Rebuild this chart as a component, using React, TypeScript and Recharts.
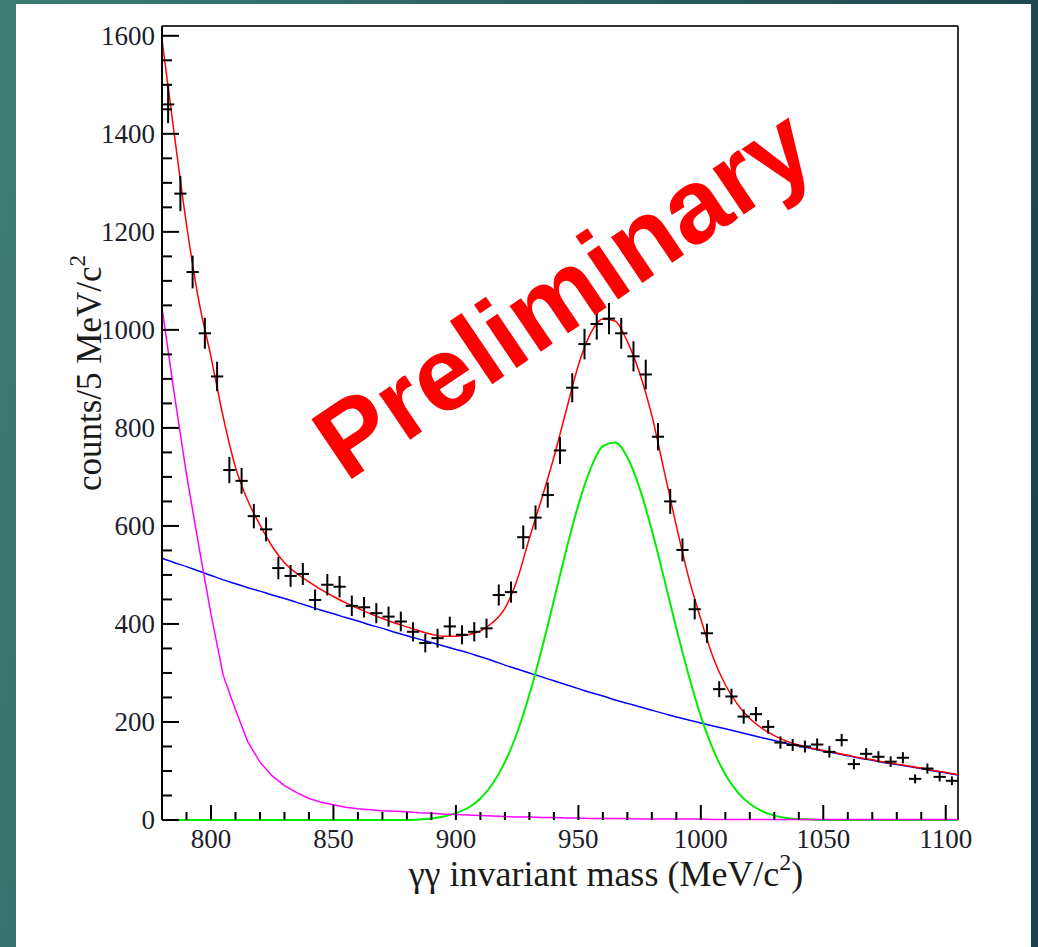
import React from "react";
import { ComposedChart, Line, Scatter, ErrorBar, XAxis, YAxis, ReferenceLine } from "recharts";

// measured histogram: bin centres (5 MeV bins) and counts
const binCenters = [
  782.5, 787.5, 792.5, 797.5, 802.5, 807.5, 812.5, 817.5, 822.5, 827.5, 832.5, 837.5, 842.5,
  847.5, 852.5, 857.5, 862.5, 867.5, 872.5, 877.5, 882.5, 887.5, 892.5, 897.5, 902.5, 907.5,
  912.5, 917.5, 922.5, 927.5, 932.5, 937.5, 942.5, 947.5, 952.5, 957.5, 962.5, 967.5, 972.5,
  977.5, 982.5, 987.5, 992.5, 997.5, 1002.5, 1007.5, 1012.5, 1017.5, 1022.5, 1027.5, 1032.5,
  1037.5, 1042.5, 1047.5, 1052.5, 1057.5, 1062.5, 1067.5, 1072.5, 1077.5, 1082.5, 1087.5,
  1092.5, 1097.5, 1102.5,
];
const counts = [
  1460, 1278, 1118, 993, 905, 714, 692, 620, 593, 514, 498, 502, 449, 480, 476, 437, 434, 422,
  415, 405, 384, 361, 371, 395, 378, 384, 391, 459, 465, 577, 617, 663, 754, 882, 971, 1012,
  1023, 993, 946, 909, 782, 650, 551, 430, 381, 267, 252, 211, 216, 190, 158, 153, 150, 154,
  139, 163, 114, 135, 129, 119, 127, 84, 105, 88, 80,
];
const binHalfWidth = 2.5;

// fit curves, read at 5 MeV steps
const curveX = [
  780, 785, 790, 795, 800, 805, 810, 815, 820, 825, 830, 835, 840, 845, 850, 855, 860, 865, 870,
  875, 880, 885, 890, 895, 900, 905, 910, 915, 920, 925, 930, 935, 940, 945, 950, 955, 960, 965,
  970, 975, 980, 985, 990, 995, 1000, 1005, 1010, 1015, 1020, 1025, 1030, 1035, 1040, 1045,
  1050, 1055, 1060, 1065, 1070, 1075, 1080, 1085, 1090, 1095, 1100, 1105,
];
const totalFit = [
  1592, 1400, 1215, 1060, 945, 822, 720, 652, 602, 558, 525, 503, 486, 470, 456, 443, 432, 421,
  411, 402, 394, 386, 379, 375, 375, 378, 386, 403, 432, 490, 575, 655, 740, 835, 928, 993,
  1022, 1018, 976, 912, 825, 713, 600, 495, 410, 332, 276, 236, 207, 187, 172, 161, 153, 147,
  142, 137, 132, 127, 123, 118, 114, 110, 106, 101, 97, 93,
];
const linearBkg = [
  534, 525, 517, 508, 499, 490, 482, 474, 467, 459, 452, 444, 436, 428, 421, 413, 406, 398, 391,
  383, 376, 369, 362, 355, 348, 341, 333, 325, 316, 308, 300, 292, 284, 276, 268, 260, 253, 245,
  238, 231, 224, 217, 210, 204, 198, 192, 186, 180, 174, 168, 162, 156, 151, 146, 141, 136, 131,
  126, 122, 117, 113, 109, 105, 100, 96, 92,
];
const lowMassBkg = [
  1045, 870, 705, 560, 420, 295, 225, 160, 118, 90, 70, 56, 44, 36, 31, 26, 23, 21, 19, 18, 17,
  15, 14, 12, 11, 10, 9, 8, 7, 6, 6, 5, 5, 4, 4, 3, 3, 3, 3, 2, 2, 2, 2, 2, 2, 1, 1, 1, 1, 1, 1,
  1, 1, 1, 1, 1, 1, 1, 1, 1, 1, 1, 1, 1, 1, 1,
];
const peakFit = [
  0, 0, 0, 0, 0, 0, 0, 0, 0, 0, 0, 0, 0, 0, 0, 0, 0, 0, 0, 0, 0, 1, 3, 7, 14, 25, 44, 74, 118,
  178, 256, 348, 448, 550, 643, 717, 763, 770, 740, 677, 591, 493, 391, 296, 212, 144, 93, 57,
  33, 18, 9, 4, 2, 1, 0, 0, 0, 0, 0, 0, 0, 0, 0, 0, 0, 0,
];

const xTicks = [
  790, 800, 810, 820, 830, 840, 850, 860, 870, 880, 890, 900, 910, 920, 930, 940, 950, 960, 970,
  980, 990, 1000, 1010, 1020, 1030, 1040, 1050, 1060, 1070, 1080, 1090, 1100,
];
const xLabels = [800, 850, 900, 950, 1000, 1050, 1100];
const yTicks = [
  0, 50, 100, 150, 200, 250, 300, 350, 400, 450, 500, 550, 600, 650, 700, 750, 800, 850, 900,
  950, 1000, 1050, 1100, 1150, 1200, 1250, 1300, 1350, 1400, 1450, 1500, 1550, 1600,
];
const yLabels = [0, 200, 400, 600, 800, 1000, 1200, 1400, 1600];

const points = binCenters.map((x, i) => ({
  x,
  y: counts[i],
  ex: binHalfWidth,
  ey: Math.sqrt(counts[i]), // poisson error
}));
const curve = (vals: number[]) => curveX.map((x, i) => ({ x, y: vals[i] }));

const serif = "'Liberation Serif', 'DejaVu Serif', serif";
const labelColor = "#1d1d2c";

const XTick = ({ x, y, payload }: any) => {
  const major = xLabels.includes(payload.value);
  return (
    <g>
      <line x1={x} x2={x} y1={y} y2={y - (major ? 15 : 8)} stroke="#000" strokeWidth={2} />
      {major && (
        <text x={x} y={y + 28} textAnchor="middle" fontFamily={serif} fontSize={27} fill={labelColor}>
          {payload.value}
        </text>
      )}
    </g>
  );
};

const YTick = ({ x, y, payload }: any) => {
  const major = yLabels.includes(payload.value);
  return (
    <g>
      <line x1={x} x2={x + (major ? 17 : 10)} y1={y} y2={y} stroke="#000" strokeWidth={2} />
      {major && (
        <text x={x - 7} y={y + 9} textAnchor="end" fontFamily={serif} fontSize={27} fill={labelColor}>
          {payload.value}
        </text>
      )}
    </g>
  );
};

const noMarker = () => <g />;

export default function App() {
  return (
    <div
      style={{
        position: "absolute",
        left: 0,
        top: 0,
        width: 1038,
        height: 947,
        background: "linear-gradient(100deg, #3d7d72 0%, #2a5e60 50%, #1a3f4e 100%)",
        overflow: "hidden",
      }}
    >
      <div style={{ position: "absolute", left: 16, top: 4, width: 1015, height: 943, background: "#fff" }} />
      <div style={{ position: "absolute", left: 0, top: 0 }}>
        <ComposedChart width={1038} height={947} margin={{ top: 26, right: 80, bottom: 87, left: 102 }}>
          <XAxis
            dataKey="x"
            type="number"
            domain={[780, 1105]}
            ticks={xTicks}
            interval={0}
            tickSize={0}
            tickMargin={0}
            tick={<XTick />}
            axisLine={false}
            height={40}
          />
          <YAxis
            dataKey="y"
            type="number"
            domain={[0, 1620]}
            ticks={yTicks}
            interval={0}
            tickSize={0}
            tickMargin={0}
            tick={<YTick />}
            axisLine={{ stroke: "#000", strokeWidth: 2 }}
            width={60}
          />
          <ReferenceLine y={1620} stroke="#333" strokeWidth={2} />
          <ReferenceLine x={1105} stroke="#333" strokeWidth={2} />
          <Line data={curve(linearBkg)} dataKey="y" type="monotone" stroke="#0000ff" strokeWidth={1.5} dot={false} isAnimationActive={false} />
          <Line data={curve(totalFit)} dataKey="y" type="monotone" stroke="#ff0000" strokeWidth={1.5} dot={false} isAnimationActive={false} />
          <Line data={curve(peakFit)} dataKey="y" type="monotone" stroke="#00ee00" strokeWidth={2} dot={false} isAnimationActive={false} />
          <Line data={curve(lowMassBkg)} dataKey="y" type="linear" stroke="#ff00ff" strokeWidth={1.5} dot={false} isAnimationActive={false} />
          <Scatter data={points} shape={noMarker} isAnimationActive={false}>
            <ErrorBar dataKey="ex" direction="x" width={0} stroke="#000" strokeWidth={2} />
            <ErrorBar dataKey="ey" direction="y" width={0} stroke="#000" strokeWidth={2} />
          </Scatter>
        </ComposedChart>
      </div>
      <svg width={1038} height={947} style={{ position: "absolute", left: 0, top: 0, pointerEvents: "none" }}>
        <text x={606} y={886} textAnchor="middle" fontFamily={serif} fontSize={36} fill="#1a1a1a">
          γγ invariant mass (MeV/c
          <tspan dy={-16} fontSize={24}>2</tspan>
          <tspan dy={16}>)</tspan>
        </text>
        <text transform="translate(101,373) rotate(-90)" textAnchor="middle" fontFamily={serif} fontSize={35} fill="#1a1a1a">
          counts/5 MeV/c
          <tspan dy={-16} fontSize={23}>2</tspan>
        </text>
        <text
          transform="translate(583,323) rotate(-34)"
          textAnchor="middle"
          fontFamily="'Liberation Sans', Arial, sans-serif"
          fontWeight={700}
          fontSize={105}
          fill="#ff0000"
        >
          Preliminary
        </text>
      </svg>
    </div>
  );
}
